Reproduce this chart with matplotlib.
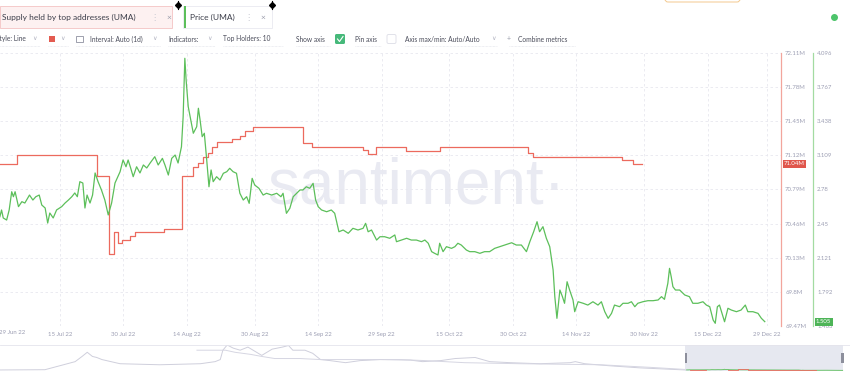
import numpy as np
import matplotlib.pyplot as plt
from matplotlib.patches import Rectangle, FancyBboxPatch

plt.rcParams['font.family'] = ['Lato', 'DejaVu Sans']

W, H = 850, 373

# price (UMA), x = days after 1 Jul 2022
price_day = [-0.2, 0.2, 0.6, 1.4, 2.0, 2.6, 3.0, 3.4, 4.2, 5.0,
             5.7, 6.8, 7.6, 8.3, 9.1, 9.7, 10.5, 11.1, 11.6, 12.4,
             13.2, 14.4, 15.2, 16.0, 16.8, 17.5, 18.1, 18.7, 19.4, 19.9,
             20.4, 21.1, 21.7, 22.3, 23.0, 23.8, 24.6, 25.4, 26.2, 27.0,
             28.2, 28.9, 29.6, 30.1, 30.7, 31.3, 32.1, 32.9, 33.7, 34.5,
             35.3, 36.4, 37.2, 38.2, 38.8, 39.6, 40.4, 41.2, 41.9, 42.7,
             43.1, 43.5, 43.8, 44.3, 44.9, 45.5, 46.3, 46.7, 47.1, 47.6,
             48.1, 48.6, 49.2, 49.7, 50.2, 51.0, 51.8, 52.6, 53.4, 54.1,
             54.9, 55.7, 56.5, 57.3, 58.1, 58.7, 59.4, 60.0, 61.0, 62.0,
             62.8, 64.0, 65.2, 66.2, 66.7, 67.5, 68.3, 69.1, 69.9, 70.7,
             71.4, 72.2, 73.0, 73.8, 74.4, 75.0, 75.8, 77.0, 78.1, 78.9,
             79.9, 80.9, 82.1, 83.2, 84.4, 85.6, 86.2, 86.8, 87.6, 88.8,
             89.6, 90.7, 91.9, 93.1, 93.5, 94.7, 95.9, 97.0, 98.2, 99.4,
             100.2, 101.0, 101.8, 102.5, 103.3, 103.7, 104.5, 105.3, 106.5, 107.3,
             108.0, 108.8, 110.0, 110.8, 112.0, 113.2, 114.3, 115.5, 116.7, 117.9,
             119.1, 120.7, 121.8, 123.0, 124.2, 125.0, 125.9, 126.7, 127.3, 128.1,
             128.9, 129.7, 130.5, 130.9, 131.4, 132.1, 132.7, 133.2, 133.8, 134.4,
             135.2, 135.6, 136.4, 137.6, 138.7, 139.9, 141.1, 141.9, 142.7, 143.5,
             144.3, 145.0, 146.2, 147.0, 148.2, 149.0, 149.8, 150.5, 151.7, 152.9,
             154.1, 155.3, 156.1, 156.8, 157.6, 158.0, 158.4, 158.8, 159.4, 160.4,
             161.6, 162.7, 163.5, 164.7, 165.9, 166.7, 167.5, 168.3, 168.8, 169.3,
             169.8, 170.4, 171.0, 171.8, 172.6, 173.8, 174.9, 175.9, 176.5, 177.7,
             178.9, 179.7, 180.5]
price = [2.517, 2.582, 2.505, 2.485, 2.582, 2.758, 2.710, 2.758, 2.614, 2.662,
         2.649, 2.726, 2.678, 2.710, 2.726, 2.630, 2.601, 2.456, 2.553, 2.505,
         2.582, 2.614, 2.649, 2.678, 2.710, 2.746, 2.710, 2.855, 2.842, 2.601,
         2.726, 2.649, 2.726, 2.939, 2.855, 2.775, 2.678, 2.534, 2.649, 2.842,
         2.951, 3.064, 2.999, 3.064, 2.987, 2.903, 2.999, 2.939, 3.016, 2.987,
         3.035, 3.096, 3.016, 3.080, 3.016, 2.919, 3.080, 3.112, 3.035, 3.192,
         3.482, 4.045, 3.836, 3.578, 3.450, 3.322, 3.385, 3.563, 3.450, 3.289,
         3.322, 3.096, 2.806, 2.968, 2.855, 2.903, 2.871, 2.936, 2.951, 2.984,
         2.951, 2.936, 2.743, 2.678, 2.710, 2.646, 2.887, 2.823, 2.791, 2.726,
         2.743, 2.726, 2.743, 2.710, 2.743, 2.550, 2.598, 2.710, 2.743, 2.775,
         2.775, 2.806, 2.791, 2.839, 2.678, 2.614, 2.582, 2.565, 2.582, 2.550,
         2.372, 2.389, 2.357, 2.405, 2.389, 2.405, 2.453, 2.372, 2.389, 2.292,
         2.324, 2.324, 2.309, 2.341, 2.276, 2.292, 2.309, 2.292, 2.292, 2.276,
         2.292, 2.261, 2.180, 2.164, 2.148, 2.261, 2.180, 2.228, 2.212, 2.228,
         2.261, 2.244, 2.196, 2.180, 2.180, 2.164, 2.180, 2.180, 2.212, 2.228,
         2.244, 2.266, 2.244, 2.244, 2.180, 2.276, 2.372, 2.469, 2.372, 2.421,
         2.309, 2.228, 2.003, 1.746, 1.537, 1.810, 1.746, 1.682, 1.890, 1.810,
         1.714, 1.601, 1.697, 1.682, 1.665, 1.697, 1.665, 1.697, 1.601, 1.537,
         1.585, 1.665, 1.649, 1.682, 1.682, 1.697, 1.649, 1.682, 1.697, 1.707,
         1.707, 1.714, 1.746, 1.720, 1.875, 2.019, 1.938, 1.842, 1.810, 1.810,
         1.762, 1.746, 1.682, 1.682, 1.697, 1.665, 1.649, 1.521, 1.489, 1.649,
         1.665, 1.585, 1.504, 1.634, 1.617, 1.601, 1.617, 1.665, 1.601, 1.601,
         1.585, 1.537, 1.505]

# supply held by top addresses (millions UMA), step changes
supply_day = [-0.2, 3.8, 22.7, 25.6, 26.8, 27.7, 28.6, 30.5, 31.7, 38.6,
              42.8, 45.4, 46.6, 47.8, 48.9, 49.9, 51.1, 54.6, 56.5, 57.7,
              59.6, 71.4, 73.5, 85.5, 86.7, 88.6, 95.7, 103.7, 124.5, 125.7,
              146.7, 149.3, 151.4]
supply = [71.04, 71.12, 70.92, 70.17, 70.38, 70.27, 70.30, 70.34, 70.38, 70.41,
          70.92, 71.01, 71.05, 71.10, 71.14, 71.20, 71.25, 71.28, 71.31, 71.36,
          71.39, 71.24, 71.20, 71.17, 71.13, 71.20, 71.16, 71.20, 71.14, 71.10,
          71.08, 71.04, 71.04]

supply_ticks = [69.47, 69.8, 70.13, 70.46, 70.79, 71.12, 71.45, 71.78, 72.11]
price_ticks = [1.463, 1.792, 2.121, 2.45, 2.78, 3.109, 3.438, 3.767, 4.096]
date_ticks = ['2022-07-15', '2022-07-30', '2022-08-14', '2022-08-30', '2022-09-14',
              '2022-09-29', '2022-10-15', '2022-10-30', '2022-11-14', '2022-11-30',
              '2022-12-15', '2022-12-29']
date_labels = ['15 Jul 22', '30 Jul 22', '14 Aug 22', '30 Aug 22', '14 Sep 22',
               '29 Sep 22', '15 Oct 22', '30 Oct 22', '14 Nov 22', '30 Nov 22',
               '15 Dec 22', '29 Dec 22']

# navigator overview (days after 27 Apr 2020, relative height)
nav_day = [0, 52, 69, 87, 95, 101, 107, 112, 118, 139, 185, 232, 249, 255, 258,
           263, 270, 278, 287, 295, 303, 315, 327, 334, 339, 353, 362, 371, 382,
           400, 417, 440, 475, 489, 510, 527, 550, 567, 591, 625, 660, 666, 677,
           706, 741, 793]
nav_price = [0.04, 0.05, 0.2, 0.36, 0.56, 0.72, 0.56, 0.52, 0.44, 0.28, 0.24, 0.28,
             0.36, 0.44, 0.8, 1.0, 0.88, 0.8, 0.92, 0.76, 0.6, 0.84, 0.92, 0.98,
             0.8, 0.8, 0.68, 0.44, 0.4, 0.32, 0.4, 0.44, 0.42, 0.36, 0.4, 0.48,
             0.52, 0.36, 0.32, 0.28, 0.32, 0.36, 0.28, 0.2, 0.12, 0.04]
nav_sup_day = [228, 261, 272, 290, 303, 318, 347, 371, 463, 492, 538, 602, 695, 753, 793]
nav_sup = [0.8, 0.8, 0.72, 0.64, 0.56, 0.48, 0.48, 0.44, 0.44, 0.4, 0.32, 0.28,
           0.24, 0.14, 0.06]

RED = '#ec6a5e'
GREEN = '#5cbf5a'
TICK = '#9c9eb3'
TXT = '#4a4c5a'

base = np.datetime64('2022-07-01T00:00')


def to_dt(days):
    return base + np.round(np.asarray(days) * 1440).astype(int).astype('timedelta64[m]')


fig = plt.figure(figsize=(W / 100, H / 100), dpi=100)

# overlay in pixel coordinates for the UI chrome
ov = fig.add_axes([0, 0, 1, 1])
ov.set_xlim(0, W)
ov.set_ylim(H, 0)
ov.axis('off')

# metric tabs
ov.add_patch(Rectangle((0, 6), 172, 22, fc='#fdf1f1', ec='#f5caca', lw=0.7))
ov.text(2, 17.5, 'Supply held by top addresses (UMA)', fontsize=6, color='#3c3e4a', va='center')
ov.text(154, 17.5, '⋮', fontsize=6, color='#c4c5cf', va='center', ha='center')
ov.text(169, 17.5, '×', fontsize=6, color='#9a9cab', va='center', ha='center')
ov.add_patch(Rectangle((183, 6), 89, 22, fc='white', ec='#ececf2', lw=0.7))
ov.add_patch(Rectangle((184, 6), 2, 22, fc=GREEN, ec='none'))
ov.text(190, 17.5, 'Price (UMA)', fontsize=6, color='#3c3e4a', va='center')
ov.text(248, 17.5, '⋮', fontsize=6, color='#c4c5cf', va='center', ha='center')
ov.text(263, 17.5, '×', fontsize=6, color='#9a9cab', va='center', ha='center')
for xp in (178, 272):
    ov.plot([xp, xp], [1, 9], color='black', lw=0.8)
    ov.plot(xp, 5, marker='D', ms=3, color='black')
ov.add_patch(FancyBboxPatch((665, -8), 75, 10, boxstyle='round,pad=0,rounding_size=3',
                            fc='white', ec='#f3c98e', lw=0.7))
ov.plot(834, 17, marker='o', ms=4, color='#4cc46a')

# toolbar row
ty = 39
ov.text(-4, ty, 'Style: Line', fontsize=4.8, color=TXT, va='center')
for xp in (35, 63, 155, 210, 494):
    ov.text(xp, ty - 0.5, '∨', fontsize=4.5, color='#b0b2c0', va='center', ha='center')
ov.add_patch(Rectangle((49, 36), 6, 6, fc='#e35b50', ec='none'))
ov.add_patch(Rectangle((76, 35.5), 7, 6.5, fc='none', ec='#8e90a0', lw=0.6))
ov.text(90, ty, 'Interval: Auto (1d)', fontsize=4.8, color=TXT, va='center')
ov.text(168, ty, 'Indicators:', fontsize=4.8, color=TXT, va='center')
ov.text(223, ty, 'Top Holders: 10', fontsize=4.8, color=TXT, va='center')
ov.text(296, ty, 'Show axis', fontsize=4.8, color=TXT, va='center')
ov.add_patch(FancyBboxPatch((335, 34), 10, 10, boxstyle='round,pad=0,rounding_size=1.5',
                            fc='#46b97a', ec='none'))
ov.plot([337.5, 339.5, 343], [39, 41.5, 36.5], color='white', lw=0.8)
ov.text(355, ty, 'Pin axis', fontsize=4.8, color=TXT, va='center')
ov.add_patch(FancyBboxPatch((387, 34.5), 9, 9, boxstyle='round,pad=0,rounding_size=1.5',
                            fc='white', ec='#dcdde6', lw=0.6))
ov.text(405, ty, 'Axis max/min: Auto/Auto', fontsize=4.8, color=TXT, va='center')
ov.text(509, ty, '+', fontsize=5, color='#9a9cab', va='center', ha='center')
ov.text(518, ty, 'Combine metrics', fontsize=4.8, color=TXT, va='center')
for x0, x1 in [(0, 40), (48, 68), (76, 160), (168, 215), (223, 283), (296, 330),
               (355, 381), (405, 497), (509, 575)]:
    ov.plot([x0, x1], [46, 46], color='#dedfe7', lw=0.5, ls=(0, (1, 1)))

# main chart: supply on the red axis
ax = fig.add_axes([0, 1 - 326 / H, 781 / W, (326 - 53) / H])
ax.patch.set_alpha(0)
ax.text(267, 204, 'santiment·', transform=ov.transData, fontsize=46,
        family=['Liberation Sans', 'DejaVu Sans'], color='#e9eaf2',
        va='baseline', ha='left', zorder=0)
ax.step(to_dt(supply_day), supply, where='post', color=RED, lw=0.9, zorder=3)
ax.set_xlim(np.datetime64('2022-06-30T20:00'), np.datetime64('2023-01-01T08:00'))
ax.set_ylim(69.47, 72.11)
ax.set_yticks(supply_ticks)
ax.set_yticklabels([f'{v}M' for v in supply_ticks])
ax.set_xticks([np.datetime64(d) for d in date_ticks])
ax.set_xticklabels(date_labels)
ax.tick_params(axis='both', length=0, labelsize=4.3, labelcolor=TICK)
ax.tick_params(axis='y', pad=3)
ax.tick_params(axis='x', pad=4.5)
ax.grid(True, color='#e8e8ef', lw=0.6, ls=(0, (3, 3)))

# price on the green axis
ax2 = ax.twinx()
ax.yaxis.tick_right()
for s in ('top', 'left', 'bottom'):
    ax.spines[s].set_visible(False)
ax.spines['right'].set_visible(True)
ax.spines['right'].set_color('#f2a59c')
ax.spines['right'].set_linewidth(0.9)
ax.annotate('71.04M', xy=(1, supply[-1]), xycoords=('axes fraction', 'data'),
            xytext=(3, 0), textcoords='offset pixels', va='center', ha='left',
            fontsize=4.3, color='white',
            bbox=dict(boxstyle='square,pad=0.25', fc='#e0564c', ec='none'))

ax2.plot(to_dt(price_day), price, color=GREEN, lw=0.9)
ax2.set_ylim(1.463, 4.096)
ax2.set_yticks(price_ticks)
ax2.set_yticklabels([str(v) for v in price_ticks])
ax2.tick_params(axis='y', length=0, labelsize=4.3, labelcolor=TICK, pad=3)
for s in ('top', 'left', 'bottom'):
    ax2.spines[s].set_visible(False)
ax2.spines['right'].set_position(('axes', 813 / 781))
ax2.spines['right'].set_color('#a3dba1')
ax2.spines['right'].set_linewidth(0.9)
ax2.annotate('1.505', xy=(813 / 781, 1.505), xycoords=('axes fraction', 'data'),
             xytext=(3, 0), textcoords='offset pixels', va='center', ha='left',
             fontsize=4.3, color='white',
             bbox=dict(boxstyle='square,pad=0.25', fc='#4db457', ec='none'))
ov.text(-1, 333, '29 Jun 22', fontsize=4.3, color=TICK, va='center', ha='left')

# navigator
nav = fig.add_axes([0, 1 - 371 / H, 1, 26 / H])
nav.set_xlim(0, 984)
nav.set_ylim(0, 1)
nav.axis('off')
nav.axhspan(0, 1, xmin=793 / 984, xmax=976 / 984, color='#e6e8f0', lw=0)
nav.plot(nav_day, nav_price, color='#cfcfdc', lw=0.7)
nav.plot(nav_sup_day, nav_sup, color='#d6d6e2', lw=0.7)
nav.plot(np.asarray(price_day) + 795, np.asarray(price) / 60, color=GREEN, lw=0.6)
nav.step(np.asarray(supply_day) + 795, (np.asarray(supply) - 70.9) / 8, where='post',
         color=RED, lw=0.6)
nav.axhline(1, color='#e4e4ec', lw=0.6)
nav.axhline(0, color='#e4e4ec', lw=0.6)
for xd in (794, 975):
    nav.add_patch(Rectangle((xd - 1.5, 0.3), 3, 0.38, fc='#8d8f9c', ec='none'))

fig.savefig('out.png', dpi=100, facecolor='white')
